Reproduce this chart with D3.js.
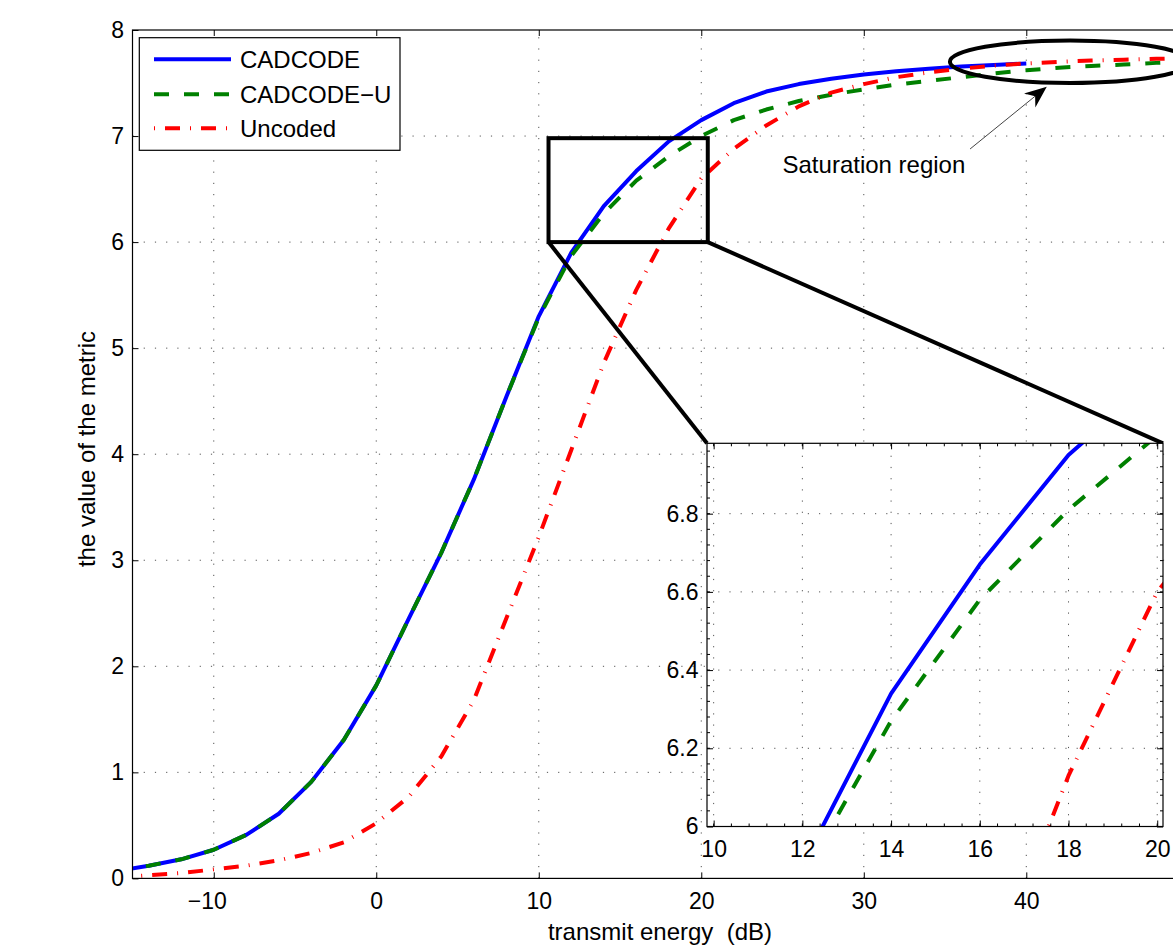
<!DOCTYPE html>
<html>
<head>
<meta charset="utf-8">
<script src="https://cdn.jsdelivr.net/npm/d3@7"></script>
<style>
  html, body { margin: 0; padding: 0; background: #fff; }
  svg { display: block; font-family: "Liberation Sans", Arial, Helvetica, sans-serif; }
</style>
</head>
<body>
<svg id="chart" width="1173" height="948"></svg>
<script>
// ---- data -------------------------------------------------------------
const energy   = [-16, -14, -12, -10, -8, -6, -4, -2, 0, 2, 4, 6, 8, 10, 12, 14, 16, 18, 20,
                  22, 24, 26, 28, 30, 32, 34, 36, 38, 40, 42, 44, 46, 48, 50];
const cadcode  = [0.07, 0.12, 0.18, 0.27, 0.41, 0.61, 0.91, 1.305, 1.82, 2.45, 3.07, 3.76, 4.54, 5.30,
                  5.90, 6.34, 6.67, 6.95, 7.15, 7.31, 7.42, 7.49, 7.54, 7.58, 7.61, 7.635, 7.655, 7.67, 7.685,
                  null, null, null, null, null];
const cadcodeU = [0.07, 0.12, 0.18, 0.27, 0.41, 0.61, 0.91, 1.305, 1.82, 2.45, 3.07, 3.76, 4.54, 5.29,
                  5.87, 6.27, 6.58, 6.81, 7.00, 7.15, 7.25, 7.33, 7.39, 7.44, 7.485, 7.52, 7.555, 7.59, 7.62,
                  7.645, 7.66, 7.675, 7.69, 7.70];
const uncoded  = [0.01, 0.03, 0.05, 0.085, 0.12, 0.17, 0.24, 0.34, 0.52, 0.77, 1.15, 1.68, 2.45, 3.22,
                  4.04, 4.86, 5.55, 6.13, 6.60, 6.88, 7.10, 7.28, 7.41, 7.49, 7.555, 7.60, 7.635, 7.665, 7.685,
                  7.70, 7.712, 7.72, 7.728, 7.735];

const seriesNames  = ["CADCODE", "CADCODE\u2212U", "Uncoded"];
const seriesColors = ["#0000ff", "#008000", "#ff0000"];
const seriesDash   = [null, "15,15", "15,10,1,10"];

const xDomain = [-15, 50];
const yDomain = [0, 8];
const xTicks = [-10, 0, 10, 20, 30, 40];
const yTicks = [0, 1, 2, 3, 4, 5, 6, 7, 8];

const insetXDomain = [9.85, 20.13];
const insetYDomain = [6, 6.98];
const insetXTicks = [10, 12, 14, 16, 18, 20];
const insetYTicks = [6, 6.2, 6.4, 6.6, 6.8];

const zoomBox = [10.6, 20.4, 6.0, 6.98];          // x0, x1, y0, y1 of the magnified window
const ellipseSpec = [42.7, 7.70, 7.4, 0.20];       // cx, cy, rx, ry (data units)
const arrowSpec = [36.54, 6.878, 41.26, 7.465];    // from (x,y) to tip (x,y)
const noteText = "Saturation region";
const notePos = [25.0, 6.65];
const xLabel = "transmit energy  (dB)";
const yLabel = "the value of the metric";

// ---- layout -----------------------------------------------------------
const plot  = { left: 132.5, top: 30, right: 1188.8, bottom: 878.4 };
const inset = { left: 707, top: 443.3, right: 1163, bottom: 826.5 };

const svg = d3.select("#chart");
const x = d3.scaleLinear().domain(xDomain).range([plot.left, plot.right]);
const y = d3.scaleLinear().domain(yDomain).range([plot.bottom, plot.top]);
const ix = d3.scaleLinear().domain(insetXDomain).range([inset.left, inset.right]);
const iy = d3.scaleLinear().domain(insetYDomain).range([inset.bottom, inset.top]);

const fmt = d => (d < 0 ? "\u2212" : "") + Math.abs(d);
const series = [cadcode, cadcodeU, uncoded].map(vals => energy.map((e, i) => [e, vals[i]]));

const defs = svg.append("defs");
defs.append("clipPath").attr("id", "clipMain").append("rect")
  .attr("x", plot.left).attr("y", plot.top)
  .attr("width", plot.right - plot.left).attr("height", plot.bottom - plot.top);
defs.append("clipPath").attr("id", "clipInset").append("rect")
  .attr("x", inset.left).attr("y", inset.top)
  .attr("width", inset.right - inset.left).attr("height", inset.bottom - inset.top);

const gridStyle = sel => sel.attr("stroke", "#555").attr("stroke-width", 1)
  .attr("stroke-dasharray", "1.2,10").attr("fill", "none");

// draws a full boxed axes (grid, curves, frame, ticks, labels)
function drawAxes(g, sx, sy, xt, yt, box, clipId, minor) {
  const xd = sx.domain(), yd = sy.domain();
  // grid
  g.append("g").selectAll("line").data(xt.filter(t => t > xd[0] && t < xd[1])).join("line")
    .attr("x1", d => sx(d)).attr("x2", d => sx(d)).attr("y1", box.bottom).attr("y2", box.top)
    .call(gridStyle);
  g.append("g").selectAll("line").data(yt.filter(t => t > yd[0] && t < yd[1])).join("line")
    .attr("y1", d => sy(d)).attr("y2", d => sy(d)).attr("x1", box.left).attr("x2", box.right)
    .call(gridStyle);

  // curves
  const line = d3.line().defined(d => d[1] != null).x(d => sx(d[0])).y(d => sy(d[1]));
  const cg = g.append("g").attr("clip-path", `url(#${clipId})`);
  series.forEach((s, i) => {
    cg.append("path").datum(s).attr("d", line)
      .attr("fill", "none").attr("stroke", seriesColors[i]).attr("stroke-width", 4)
      .attr("stroke-linejoin", "round")
      .attr("stroke-dasharray", seriesDash[i]);
  });

  // axes with inward ticks on all four sides
  const axB = d3.axisBottom(sx).tickValues(xt).tickSizeInner(-6).tickSizeOuter(0).tickPadding(14).tickFormat(fmt);
  const axT = d3.axisTop(sx).tickValues(xt).tickSizeInner(-6).tickSizeOuter(0).tickFormat("");
  const axL = d3.axisLeft(sy).tickValues(yt).tickSizeInner(-6).tickSizeOuter(0).tickPadding(8.5).tickFormat(fmt);
  const axR = d3.axisRight(sy).tickValues(yt).tickSizeInner(-6).tickSizeOuter(0).tickFormat("");
  const gb = g.append("g").attr("transform", `translate(0,${box.bottom})`).call(axB);
  g.append("g").attr("transform", `translate(0,${box.top})`).call(axT);
  g.append("g").attr("transform", `translate(${box.left},0)`).call(axL);
  g.append("g").attr("transform", `translate(${box.right},0)`).call(axR);
  g.selectAll(".domain").remove();
  g.selectAll(".tick line").attr("stroke", "#000").attr("stroke-width", 1);
  g.selectAll(".tick text").attr("fill", "#000").attr("font-size", 23)
    .attr("font-family", "'Liberation Sans', Arial, Helvetica, sans-serif");
  // keep digits centred on the tick, letting the minus sign hang to the left
  gb.selectAll(".tick text").attr("dx", d => d < 0 ? -7 : 0);

  if (minor) {
    const mx = d3.range(xt[0] - 2, xt[xt.length - 1] + 2.001, minor[0]).filter(v => v >= xd[0] && v <= xd[1]);
    const my = d3.range(yt[0], yd[1] + 1e-6, minor[1]).filter(v => v >= yd[0] && v <= yd[1]);
    const mg = g.append("g").attr("stroke", "#000").attr("stroke-width", 1);
    mx.forEach(v => {
      mg.append("line").attr("x1", sx(v)).attr("x2", sx(v)).attr("y1", box.bottom).attr("y2", box.bottom - 3);
      mg.append("line").attr("x1", sx(v)).attr("x2", sx(v)).attr("y1", box.top).attr("y2", box.top + 3);
    });
    my.forEach(v => {
      mg.append("line").attr("y1", sy(v)).attr("y2", sy(v)).attr("x1", box.left).attr("x2", box.left + 3);
      mg.append("line").attr("y1", sy(v)).attr("y2", sy(v)).attr("x1", box.right).attr("x2", box.right - 3);
    });
  }

  // frame
  g.append("rect").attr("x", box.left).attr("y", box.top)
    .attr("width", box.right - box.left).attr("height", box.bottom - box.top)
    .attr("fill", "none").attr("stroke", "#000").attr("stroke-width", 1.2);
}

// ---- main axes --------------------------------------------------------
const main = svg.append("g");
drawAxes(main, x, y, xTicks, yTicks, plot, "clipMain", null);

// axis titles
svg.append("text").attr("x", 660).attr("y", 940).attr("text-anchor", "middle")
  .style("white-space", "pre")
  .attr("font-size", 24).attr("fill", "#000").text(xLabel);
svg.append("text").attr("transform", "translate(95,449) rotate(-90)").attr("text-anchor", "middle")
  .attr("font-size", 24).attr("fill", "#000").text(yLabel);

// ---- legend -----------------------------------------------------------
const leg = svg.append("g");
leg.append("rect").attr("x", 139.3).attr("y", 37.7).attr("width", 260.7).attr("height", 112.6)
  .attr("fill", "#fff").attr("stroke", "#000").attr("stroke-width", 1.2);
const rows = [59.3, 94.3, 128.3];
seriesNames.forEach((name, i) => {
  leg.append("line").attr("x1", 154).attr("x2", 231).attr("y1", rows[i]).attr("y2", rows[i])
    .attr("stroke", seriesColors[i]).attr("stroke-width", 4)
    .attr("stroke-dasharray", seriesDash[i])
    .attr("stroke-dashoffset", i === 2 ? 25 : 0);
  leg.append("text").attr("x", 240).attr("y", rows[i] + 8.8).attr("font-size", 24)
    .attr("fill", "#000").text(name);
});

// ---- annotations ------------------------------------------------------
const ann = svg.append("g").attr("fill", "none").attr("stroke", "#000");
const [zx0, zx1, zy0, zy1] = zoomBox;
ann.append("rect").attr("x", x(zx0)).attr("y", y(zy1))
  .attr("width", x(zx1) - x(zx0)).attr("height", y(zy0) - y(zy1)).attr("stroke-width", 4);
ann.append("line").attr("x1", x(zx0)).attr("y1", y(zy0)).attr("x2", inset.left).attr("y2", inset.top)
  .attr("stroke-width", 4);
ann.append("line").attr("x1", x(zx1)).attr("y1", y(zy0)).attr("x2", inset.right).attr("y2", inset.top)
  .attr("stroke-width", 4);

const [ecx, ecy, erx, ery] = ellipseSpec;
ann.append("ellipse").attr("cx", x(ecx)).attr("cy", y(ecy))
  .attr("rx", x(ecx + erx) - x(ecx)).attr("ry", y(ecy - ery) - y(ecy)).attr("stroke-width", 4);

// arrow pointing into the ellipse
const [ax0, ay0, ax1, ay1] = arrowSpec;
const P0 = [x(ax0), y(ay0)], T = [x(ax1), y(ay1)];
const L = Math.hypot(T[0] - P0[0], T[1] - P0[1]);
const u = [(T[0] - P0[0]) / L, (T[1] - P0[1]) / L];
const n = [-u[1], u[0]];
const notch = [T[0] - 15 * u[0], T[1] - 15 * u[1]];
svg.append("line").attr("x1", P0[0]).attr("y1", P0[1]).attr("x2", notch[0]).attr("y2", notch[1])
  .attr("stroke", "#444").attr("stroke-width", 1);
const head = [
  T,
  [T[0] - 22 * u[0] + 9 * n[0], T[1] - 22 * u[1] + 9 * n[1]],
  notch,
  [T[0] - 22 * u[0] - 9 * n[0], T[1] - 22 * u[1] - 9 * n[1]]
];
svg.append("path").attr("d", "M" + head.map(p => p.join(",")).join("L") + "Z").attr("fill", "#000");

svg.append("text").attr("x", x(notePos[0])).attr("y", y(notePos[1])).attr("font-size", 24)
  .attr("fill", "#000").text(noteText);

// ---- magnified inset --------------------------------------------------
const ins = svg.append("g");
ins.append("rect").attr("x", inset.left).attr("y", inset.top)
  .attr("width", inset.right - inset.left).attr("height", inset.bottom - inset.top).attr("fill", "#fff");
drawAxes(ins, ix, iy, insetXTicks, insetYTicks, inset, "clipInset", [0.4, 0.04]);
</script>
</body>
</html>
